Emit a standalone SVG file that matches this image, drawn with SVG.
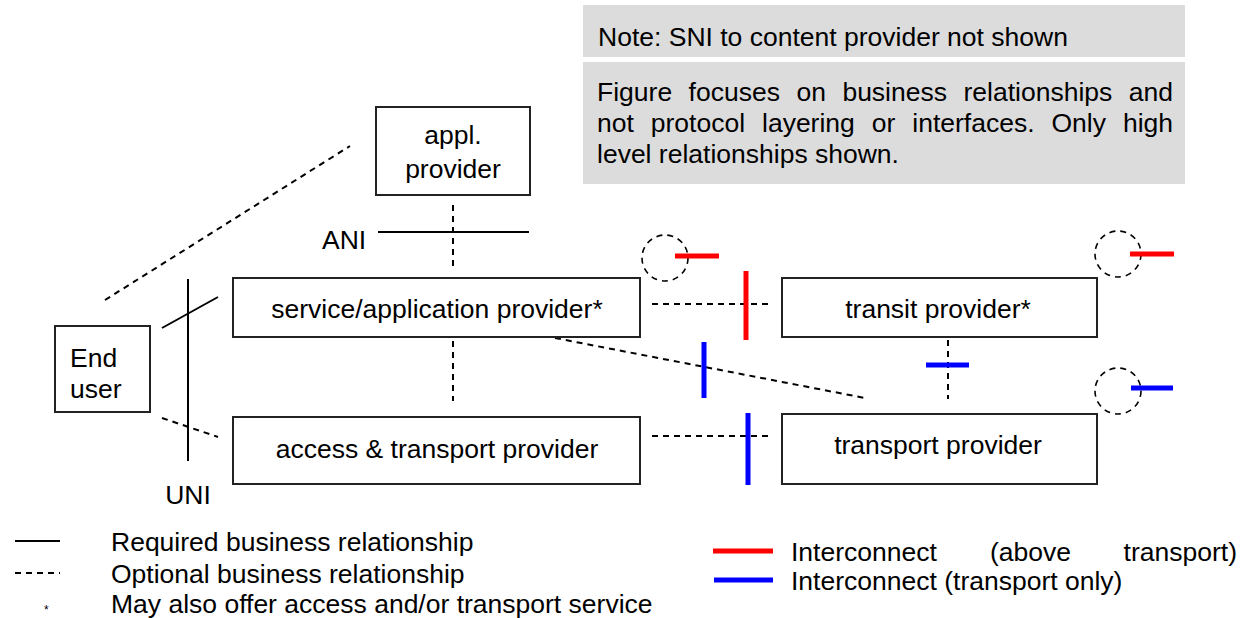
<svg xmlns="http://www.w3.org/2000/svg" width="1240" height="618" viewBox="0 0 1240 618">
  <style>
    text { font-family: "Liberation Sans", Arial, sans-serif; font-size: 26.5px; fill: #000; }
    .mid { text-anchor: middle; }
    .end { text-anchor: end; }
    .box { fill: #fff; stroke: #222; stroke-width: 2; }
    .note { fill: #dcdcdc; }
    .req { stroke: #000; stroke-width: 2; fill: none; }
    .opt { stroke: #000; stroke-width: 2; stroke-dasharray: 6 5; fill: none; }
    .ring { stroke: #000; stroke-width: 1.6; stroke-dasharray: 6 5; fill: none; }
    .red { stroke: #ff0000; stroke-width: 5; }
    .blue { stroke: #0000ff; stroke-width: 5; }
  </style>

  <!-- notes -->
  <g id="note-sni">
    <rect class="note" x="583" y="5" width="602" height="52"/>
    <text x="598" y="46">Note: SNI to content provider not shown</text>
  </g>
  <g id="note-focus">
    <rect class="note" x="583" y="62" width="602" height="122"/>
    <!-- justified lines, one word per text -->
    <text x="597" y="101">Figure</text>
    <text x="688.6" y="101">focuses</text>
    <text x="796.4" y="101">on</text>
    <text x="842.4" y="101">business</text>
    <text x="963.5" y="101">relationships</text>
    <text class="end" x="1173" y="101">and</text>
    <text x="597" y="132">not</text>
    <text x="650.8" y="132">protocol</text>
    <text x="762" y="132">layering</text>
    <text x="871.8" y="132">or</text>
    <text x="912.3" y="132">interfaces.</text>
    <text x="1051.5" y="132">Only</text>
    <text class="end" x="1173" y="132">high</text>
    <text x="597" y="163">level relationships shown.</text>
  </g>

  <!-- connectors -->
  <g id="connectors">
    <line class="opt" x1="105" y1="300" x2="350" y2="146"/>
    <line class="opt" x1="453" y1="205" x2="453" y2="266"/>
    <line class="req" x1="378" y1="232" x2="529" y2="232"/>
    <line class="req" x1="188" y1="279" x2="188" y2="461"/>
    <line class="req" x1="162" y1="328" x2="218" y2="297"/>
    <line class="opt" x1="162" y1="418" x2="218" y2="437"/>
    <line class="opt" x1="453" y1="341" x2="453" y2="401"/>
    <line class="opt" x1="555" y1="338" x2="865" y2="398"/>
    <line class="opt" x1="652" y1="304" x2="772" y2="304"/>
    <line class="opt" x1="652" y1="436" x2="772" y2="436"/>
    <line class="opt" x1="948" y1="340" x2="948" y2="399"/>
    <line class="red" x1="746" y1="271" x2="746" y2="340"/>
    <line class="blue" x1="748" y1="413" x2="748" y2="485"/>
    <line class="blue" x1="704" y1="342" x2="704" y2="398"/>
    <line class="blue" x1="926" y1="365" x2="969" y2="365"/>
    <!-- interconnect markers -->
    <circle class="ring" cx="665" cy="258" r="23"/>
    <line class="red" x1="675" y1="256" x2="719" y2="256"/>
    <circle class="ring" cx="1118" cy="254" r="23"/>
    <line class="red" x1="1130" y1="254" x2="1174" y2="254"/>
    <circle class="ring" cx="1118" cy="391" r="23"/>
    <line class="blue" x1="1131" y1="388" x2="1173" y2="388"/>
  </g>

  <!-- interface labels -->
  <text x="322" y="249">ANI</text>
  <text class="mid" x="188" y="504">UNI</text>

  <!-- nodes -->
  <g id="appl-provider">
    <rect class="box" x="376" y="107" width="154" height="88"/>
    <text class="mid" x="453" y="144">appl.</text>
    <text class="mid" x="453" y="178">provider</text>
  </g>
  <g id="end-user">
    <rect class="box" x="55" y="326" width="95" height="86"/>
    <text x="70" y="367">End</text>
    <text x="70" y="398">user</text>
  </g>
  <g id="service-provider">
    <rect class="box" x="233" y="278" width="407" height="59"/>
    <text class="mid" x="437" y="318">service/application provider*</text>
  </g>
  <g id="access-provider">
    <rect class="box" x="233" y="417" width="407" height="67"/>
    <text class="mid" x="437" y="458">access &amp; transport provider</text>
  </g>
  <g id="transit-provider">
    <rect class="box" x="782" y="278" width="315" height="59"/>
    <text class="mid" x="938" y="318">transit provider*</text>
  </g>
  <g id="transport-provider">
    <rect class="box" x="782" y="414" width="315" height="70"/>
    <text class="mid" x="938" y="454">transport provider</text>
  </g>

  <!-- legend -->
  <g id="legend">
    <line class="req" x1="15" y1="541" x2="60" y2="541"/>
    <text x="111" y="551">Required business relationship</text>
    <line class="opt" x1="15" y1="573" x2="60" y2="573"/>
    <text x="111" y="583">Optional business relationship</text>
    <text x="44" y="614" style="font-size:12px">*</text>
    <text x="111" y="613">May also offer access and/or transport service</text>
    <line class="red" x1="713" y1="551" x2="773" y2="551"/>
    <text x="791" y="561">Interconnect</text>
    <text x="990" y="561">(above</text>
    <text class="end" x="1237" y="561">transport)</text>
    <line class="blue" x1="714" y1="580" x2="773" y2="580"/>
    <text x="791" y="590">Interconnect (transport only)</text>
  </g>
</svg>
